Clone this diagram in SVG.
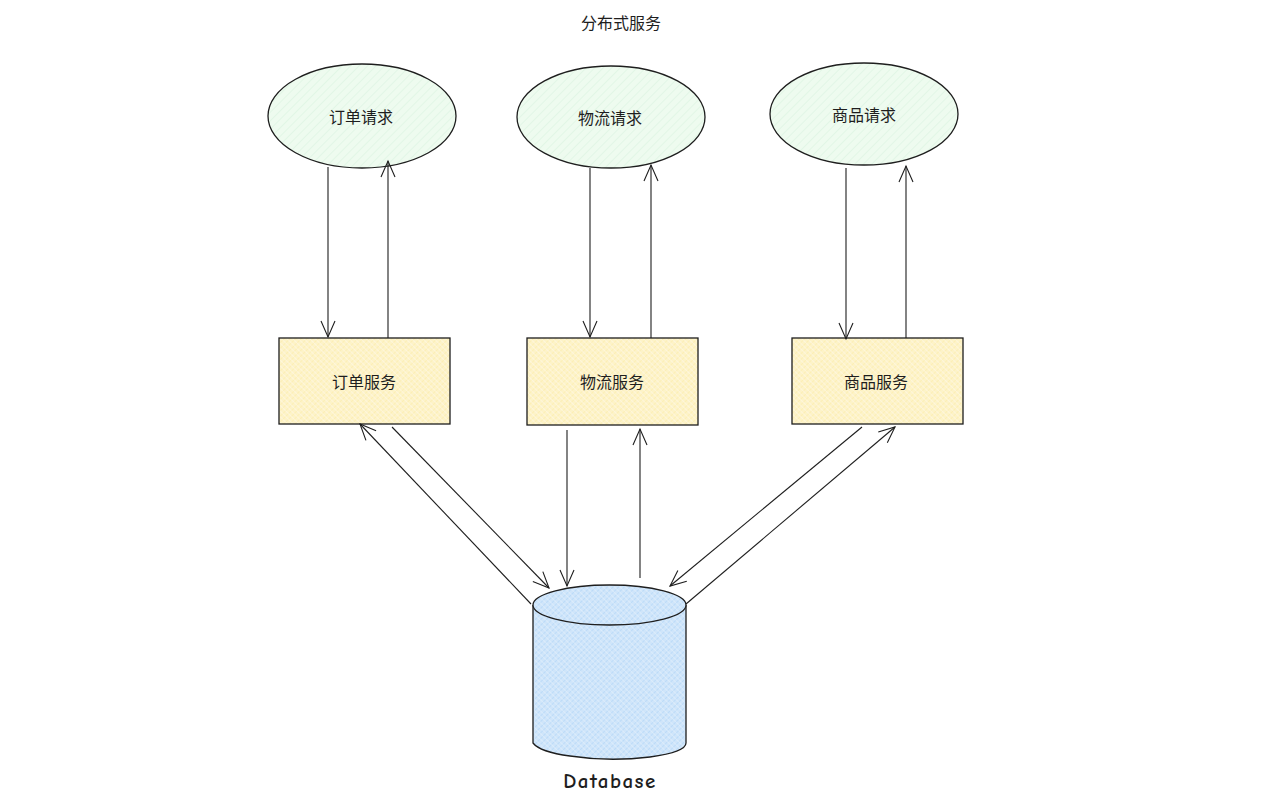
<svg xmlns="http://www.w3.org/2000/svg" width="1280" height="805" viewBox="0 0 1280 805">
<style>
.lbl{font-family:"Noto Sans CJK SC","Noto Sans",sans-serif;font-size:16px;fill:#1e1e1e;text-anchor:middle;dominant-baseline:central}
.shape{stroke:#1e1e1e;stroke-width:1.3}
.conn{stroke:#1e1e1e;stroke-width:1.1;fill:none;marker-end:url(#arr)}
</style>
<defs>
<pattern id="hg" width="6" height="6" patternUnits="userSpaceOnUse" patternTransform="rotate(45)">
<rect width="6" height="6" fill="#eefbef"/>
<line x1="0" y1="0" x2="0" y2="6" stroke="#dff5e3" stroke-width="1.5"/>
</pattern>
<pattern id="hy" width="4" height="4" patternUnits="userSpaceOnUse" patternTransform="rotate(45)">
<rect width="4" height="4" fill="#fdf3c8"/>
<line x1="0" y1="0" x2="0" y2="4" stroke="#fbe9a3" stroke-width="1"/>
<line x1="0" y1="0" x2="4" y2="0" stroke="#fffaf0" stroke-width="1"/>
</pattern>
<pattern id="hb" width="4" height="4" patternUnits="userSpaceOnUse" patternTransform="rotate(45)">
<rect width="4" height="4" fill="#cfe5fa"/>
<line x1="0" y1="0" x2="0" y2="4" stroke="#a9d2f7" stroke-width="1"/>
<line x1="0" y1="0" x2="4" y2="0" stroke="#eaf4fd" stroke-width="1"/>
</pattern>
<marker id="arr" viewBox="0 0 20 20" refX="18" refY="10" markerWidth="20" markerHeight="20" markerUnits="userSpaceOnUse" orient="auto">
<path d="M2 3 L18 10 L2 17" fill="none" stroke="#1e1e1e" stroke-width="1.1"/>
</marker>
</defs>
<rect width="1280" height="805" fill="#ffffff"/>
<text class="lbl" x="621" y="22" font-size="15">分布式服务</text>

<g id="req-order">
<ellipse class="shape" cx="362" cy="116" rx="94" ry="52" fill="url(#hg)"/>
<text class="lbl" x="361" y="116">订单请求</text>
</g>
<g id="req-logistics">
<ellipse class="shape" cx="611" cy="117" rx="94" ry="51" fill="url(#hg)"/>
<text class="lbl" x="610" y="117">物流请求</text>
</g>
<g id="req-goods">
<ellipse class="shape" cx="864" cy="114" rx="94" ry="51" fill="url(#hg)"/>
<text class="lbl" x="864" y="114">商品请求</text>
</g>

<g id="svc-order">
<rect class="shape" x="279" y="338" width="171" height="86" fill="url(#hy)"/>
<text class="lbl" x="364" y="381">订单服务</text>
</g>
<g id="svc-logistics">
<rect class="shape" x="527" y="338" width="171" height="87" fill="url(#hy)"/>
<text class="lbl" x="612" y="381">物流服务</text>
</g>
<g id="svc-goods">
<rect class="shape" x="792" y="338" width="171" height="86" fill="url(#hy)"/>
<text class="lbl" x="876" y="381">商品服务</text>
</g>

<g id="database">
<path class="shape" d="M533 605 L533 743 Q540 752 570 756 Q609 762 650 757 Q686 752 686 743 L686 605" fill="url(#hb)"/>
<ellipse class="shape" cx="609.5" cy="605" rx="76.5" ry="20" fill="url(#hb)"/>
<text x="610" y="781" font-family="'Comic Neue','DejaVu Sans',sans-serif" font-size="21" font-weight="bold" letter-spacing="1.5" fill="#1e1e1e" text-anchor="middle" dominant-baseline="central">Database</text>
</g>

<g id="connectors">
<line class="conn" x1="328" y1="167" x2="328" y2="337"/>
<line class="conn" x1="388" y1="338" x2="388" y2="161"/>
<line class="conn" x1="590" y1="168" x2="590" y2="337"/>
<line class="conn" x1="651" y1="338" x2="651" y2="165"/>
<line class="conn" x1="846" y1="168" x2="846" y2="339"/>
<line class="conn" x1="906" y1="338" x2="906" y2="166"/>
<line class="conn" x1="531" y1="604" x2="360" y2="424"/>
<line class="conn" x1="392" y1="427" x2="549" y2="588"/>
<line class="conn" x1="567" y1="430" x2="567" y2="586"/>
<line class="conn" x1="640" y1="578" x2="640" y2="429"/>
<line class="conn" x1="862" y1="427" x2="670" y2="586"/>
<line class="conn" x1="686" y1="604" x2="895" y2="427"/>
</g>
</svg>
